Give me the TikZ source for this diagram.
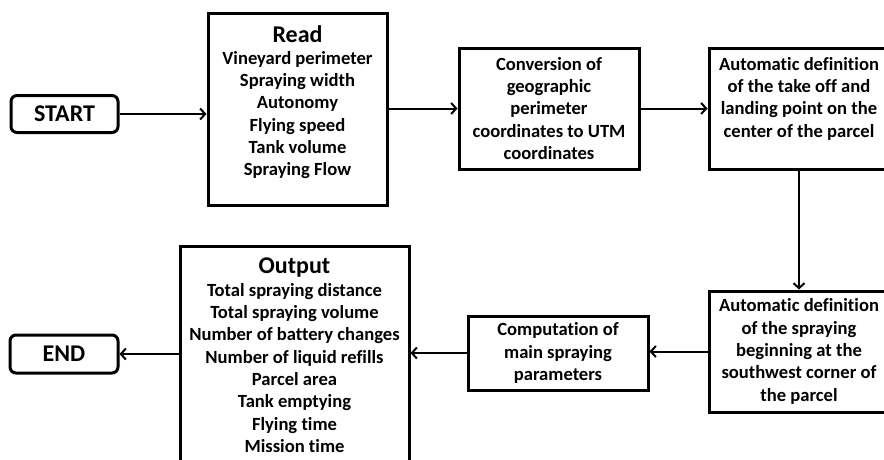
\documentclass[tikz,border=0pt]{standalone}
\usepackage{fontspec}
\setmainfont{Carlito}[Ligatures=NoCommon]
\usetikzlibrary{arrows.meta}
\begin{document}
\begin{tikzpicture}[x=1pt,y=-1pt,
  box/.style={draw=black, line width=3pt, minimum width=180pt, inner sep=0pt},
  term/.style={draw=black, line width=3pt, rounded corners=6pt, inner sep=0pt, font=\fontsize{24}{28}\selectfont\bfseries},
  txt/.style={align=center, inner sep=0pt, font=\fontsize{18.6}{22.3}\selectfont\bfseries},
  conn/.style={line width=2pt, -{Straight Barb[length=5pt,width=11pt,line width=2pt]}}]
\useasboundingbox (0,0) rectangle (884,459);
\clip (0,0) rectangle (884,459);
% terminals
\node[term, minimum width=107pt, minimum height=37pt] (start) at (64.5,114) {START};
\node[term, minimum width=108pt, minimum height=38pt] (end) at (64,354) {END};
% boxes
\node[box, minimum width=179pt, minimum height=192pt] (read) at (297.5,109) {};
\node[txt, anchor=north] (readtxt) at (297.5,25) {{\fontsize{24}{24}\selectfont Read}\\Vineyard perimeter\\Spraying width\\Autonomy\\Flying speed\\Tank volume\\Spraying Flow};
\node[box, minimum height=121pt, txt] (conv) at (549,108.5) {Conversion of\\geographic\\perimeter\\coordinates to UTM\\coordinates};
\node[box, minimum height=121pt] (auto1) at (799,108.5) {};
\node[txt, anchor=north] (auto1txt) at (799,57) {Automatic definition\\of the take off and\\landing point on the\\center of the parcel};
\node[box, minimum height=121pt, txt] (auto2) at (799,351.5) {Automatic definition\\of the spraying\\beginning at the\\southwest corner of\\the parcel};
\node[box, minimum height=74pt, txt] (comp) at (558,353) {Computation of\\main spraying\\parameters};
\node[box, minimum width=229pt, minimum height=230pt] (out) at (294.5,361) {};
\node[txt, anchor=north] (outtxt) at (294.5,258) {{\fontsize{24}{24}\selectfont Output}\\Total spraying distance\\Total spraying volume\\Number of battery changes\\Number of liquid refills\\Parcel area\\Tank emptying\\Flying time\\Mission time};
% connectors
\draw[conn] (start.east) -- (read.west |- start.east);
\draw[conn] (read.east |- conv.west) -- (conv.west);
\draw[conn] (conv.east) -- (auto1.west);
\draw[conn] (auto1.south) -- (auto2.north);
\draw[conn] (auto2.west) -- (comp.east |- auto2.west);
\draw[conn] (comp.west) -- (out.east |- comp.west);
\draw[conn] (out.west |- end.east) -- (end.east);
\end{tikzpicture}
\end{document}
